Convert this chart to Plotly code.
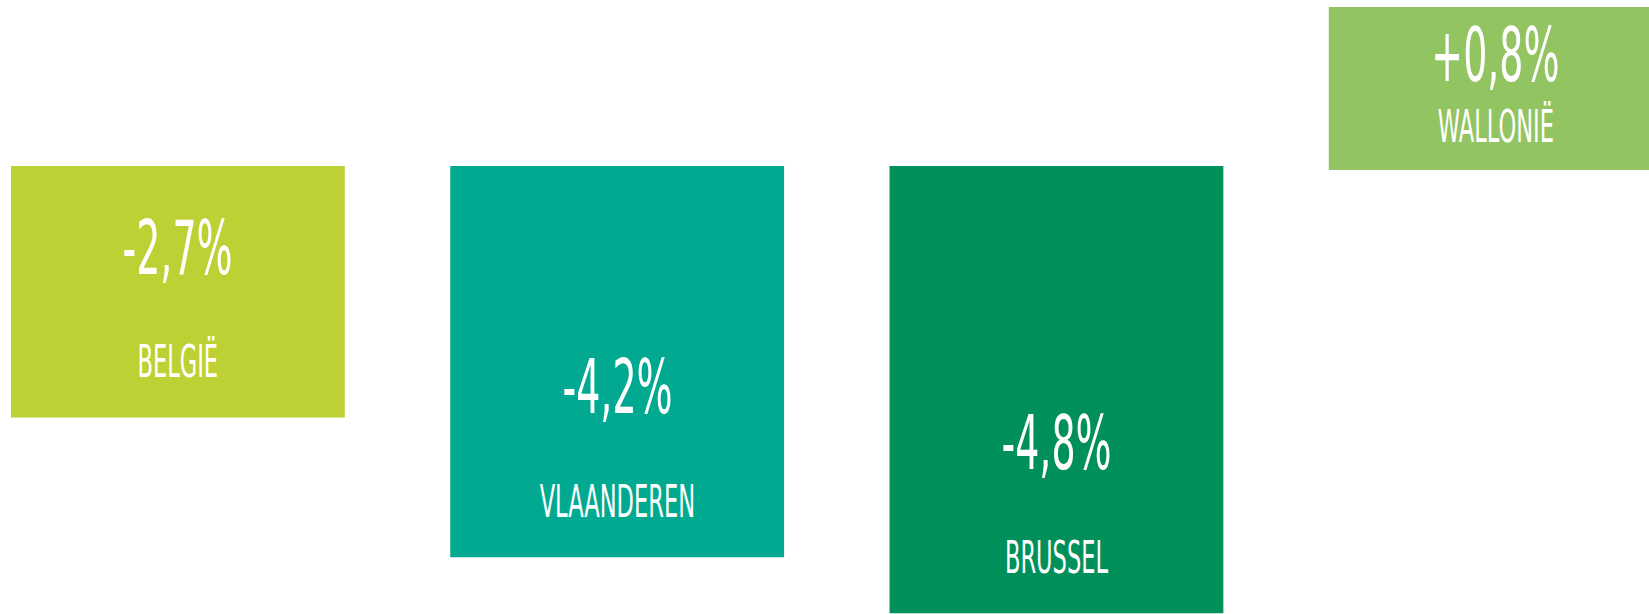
import plotly.graph_objects as go

# Data
regions = ["BELGIË", "VLAANDEREN", "BRUSSEL", "WALLONIË"]
change_pct = [-2.7, -4.2, -4.8, 0.8]
value_labels = ["-2,7%", "-4,2%", "-4,8%", "+0,8%"]
colors = ["#BED134", "#00A990", "#01905A", "#93C462"]

FONT = "DejaVu Sans Condensed, DejaVu Sans, sans-serif"

neg_idx = [i for i, v in enumerate(change_pct) if v < 0]
pos_idx = [i for i, v in enumerate(change_pct) if v >= 0]

fig = go.Figure()
fig.add_trace(go.Bar(
    x=[regions[i] for i in neg_idx],
    y=[change_pct[i] for i in neg_idx],
    marker=dict(color=[colors[i] for i in neg_idx], line=dict(width=0)),
    width=0.76, yaxis="y", hoverinfo="skip",
))
fig.add_trace(go.Bar(
    x=[regions[i] for i in pos_idx],
    y=[change_pct[i] for i in pos_idx],
    marker=dict(color=[colors[i] for i in pos_idx], line=dict(width=0)),
    width=0.76, yaxis="y2", hoverinfo="skip",
))

annotations = []
for i, (r, v, lab) in enumerate(zip(regions, change_pct, value_labels)):
    yref = "y" if v < 0 else "y2"
    if v < 0:
        vshift, lshift = 170, 56
    else:
        vshift, lshift = -48, -120
    annotations.append(dict(x=r, y=v, xref="x", yref=yref, text=lab, showarrow=False,
                            yanchor="middle", yshift=vshift,
                            font=dict(family=FONT, size=74, color="white")))
    annotations.append(dict(x=r, y=v, xref="x", yref=yref, text=r, showarrow=False,
                            yanchor="middle", yshift=lshift,
                            font=dict(family=FONT, size=44, color="white")))

fig.update_layout(
    width=1649, height=614,
    margin=dict(l=0, r=0, t=0, b=0),
    paper_bgcolor="white", plot_bgcolor="white",
    showlegend=False, barmode="overlay",
    xaxis=dict(type="category", categoryorder="array", categoryarray=regions,
               range=[-0.405, 3.349], visible=False, fixedrange=True),
    yaxis=dict(range=[-4.808, 1.782], visible=False, showgrid=False, zeroline=False),
    yaxis2=dict(range=[-2.18, 0.834], overlaying="y", visible=False,
                showgrid=False, zeroline=False),
    annotations=annotations,
)

post = (
    "document.body.style.margin='0';"
    "var s=document.createElement('style');"
    "s.textContent='.annotation-text{transform-box:fill-box;transform-origin:center;"
    "transform:scaleX(0.57);}';"
    "document.head.appendChild(s);"
)
fig.write_html("out.html", post_script=post, config={"displayModeBar": False})
